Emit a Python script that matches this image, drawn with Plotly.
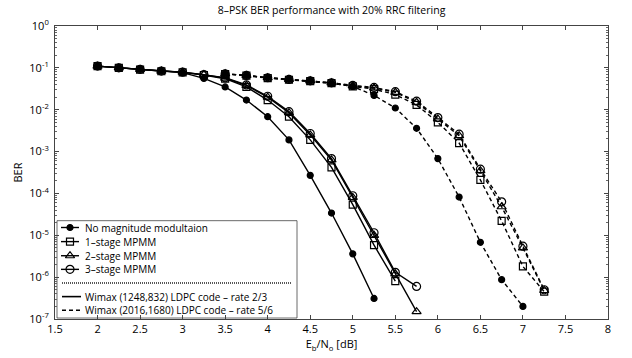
import plotly.graph_objects as go

# ---------------- data ----------------
snr_23 = [2.0, 2.25, 2.5, 2.75, 3.0, 3.25, 3.5, 3.75, 4.0, 4.25, 4.5, 4.75, 5.0, 5.25, 5.5, 5.75]
snr_56 = [3.5, 3.75, 4.0, 4.25, 4.5, 4.75, 5.0, 5.25, 5.5, 5.75, 6.0, 6.25, 6.5, 6.75, 7.0, 7.25]

# rate 2/3 code (solid)
ber_nomag_23 = [0.11, 0.10, 0.092, 0.084, 0.077, 0.056, 0.035, 0.017, 0.0068, 0.0019, 2.7e-4, 3.4e-5, 3.6e-6, 3.1e-7]
ber_s1_23 = [0.11, 0.10, 0.091, 0.083, 0.078, 0.067, 0.055, 0.035, 0.017, 0.0068, 0.0019, 4.2e-4, 5.4e-5, 5.8e-6, 8.0e-7]
ber_s2_23 = [0.11, 0.10, 0.092, 0.084, 0.079, 0.069, 0.057, 0.038, 0.020, 0.0085, 0.0025, 6.3e-4, 8.0e-5, 1.0e-5, 1.2e-6, 1.5e-7]
ber_s3_23 = [0.11, 0.10, 0.092, 0.084, 0.079, 0.069, 0.058, 0.039, 0.021, 0.0090, 0.0027, 6.8e-4, 8.8e-5, 1.15e-5, 1.3e-6, 6.0e-7]

# rate 5/6 code (dashed)
ber_nomag_56 = [0.072, 0.066, 0.058, 0.053, 0.049, 0.043, 0.036, 0.022, 0.011, 0.0036, 6.8e-4, 8.2e-5, 6.8e-6, 8.7e-7, 2.0e-7]
ber_s1_56 = [0.071, 0.065, 0.057, 0.052, 0.048, 0.043, 0.036, 0.031, 0.023, 0.013, 0.0050, 0.0016, 2.1e-4, 2.2e-5, 1.8e-6, 4.5e-7]
ber_s2_56 = [0.072, 0.066, 0.058, 0.053, 0.049, 0.044, 0.037, 0.033, 0.026, 0.015, 0.0060, 0.0024, 3.5e-4, 4.8e-5, 5.0e-6, 4.8e-7]
ber_s3_56 = [0.072, 0.066, 0.058, 0.053, 0.049, 0.044, 0.038, 0.034, 0.027, 0.016, 0.0065, 0.0026, 3.8e-4, 6.3e-5, 5.5e-6, 5.0e-7]

scheme_names = ["No magnitude modultaion", "1\u2013stage MPMM", "2\u2013stage MPMM", "3\u2013stage MPMM"]
code_names = ["Wimax (1248,832) LDPC code \u2013 rate 2/3", "Wimax (2016,1680) LDPC code \u2013 rate 5/6"]

x_ticks = [1.5, 2, 2.5, 3, 3.5, 4, 4.5, 5, 5.5, 6, 6.5, 7, 7.5, 8]
x_ticktext = ["1.5", "2", "2.5", "3", "3.5", "4", "4.5", "5", "5.5", "6", "6.5", "7", "7.5", "8"]
y_exps = [0, -1, -2, -3, -4, -5, -6, -7]

title_text = "8\u2013PSK BER performance with 20% RRC filtering"

# ---------------- style ----------------
FONT = "Open Sans"
symbols = ["circle", "square-open", "triangle-up-open", "circle-open"]
sizes = [6, 7, 8, 8]
DASH = "4px,3px"
LW = 1.4

fig = go.Figure()
curves_23 = [ber_nomag_23, ber_s1_23, ber_s2_23, ber_s3_23]
curves_56 = [ber_nomag_56, ber_s1_56, ber_s2_56, ber_s3_56]
for name, sym, sz, y23, y56 in zip(scheme_names, symbols, sizes, curves_23, curves_56):
    mk = dict(symbol=sym, size=sz, color="black", line=dict(color="black", width=1.2))
    fig.add_trace(go.Scatter(x=snr_23[:len(y23)], y=y23, mode="lines+markers", name=name,
                             line=dict(color="black", width=LW), marker=mk, showlegend=False))
    fig.add_trace(go.Scatter(x=snr_56[:len(y56)], y=y56, mode="lines+markers", name=name,
                             line=dict(color="black", width=LW, dash=DASH), marker=mk, showlegend=False))

# ---------------- manual legend (pixel-like overlay axes) ----------------
PX_L, PX_R, PX_T, PX_B = 55, 608, 26, 327
leg_rows = [233, 247.5, 262, 276]
sep_row = 290
code_rows = [304, 318]
for name, sym, sz, ry in zip(scheme_names, symbols, sizes, leg_rows):
    fig.add_trace(go.Scatter(x=[61, 79], y=[ry, ry], mode="lines", line=dict(color="black", width=LW),
                             xaxis="x2", yaxis="y2", showlegend=False, hoverinfo="skip"))
    fig.add_trace(go.Scatter(x=[70], y=[ry], mode="markers", xaxis="x2", yaxis="y2",
                             marker=dict(symbol=sym, size=sz, color="black", line=dict(color="black", width=1.2)),
                             showlegend=False, hoverinfo="skip"))
    fig.add_annotation(x=83, y=ry, xref="x2", yref="y2", text=name, showarrow=False,
                       xanchor="left", yanchor="middle", font=dict(family=FONT, size=10, color="black"))
fig.add_trace(go.Scatter(x=[62, 292], y=[sep_row, sep_row], mode="lines", xaxis="x2", yaxis="y2",
                         line=dict(color="#222", width=1.6, dash="1px,1px"), showlegend=False, hoverinfo="skip"))
for name, dsh, ry in zip(code_names, ["solid", DASH], code_rows):
    fig.add_trace(go.Scatter(x=[62, 81], y=[ry, ry], mode="lines", xaxis="x2", yaxis="y2",
                             line=dict(color="black", width=1.6 if dsh == "solid" else LW, dash=dsh),
                             showlegend=False, hoverinfo="skip"))
    fig.add_annotation(x=83, y=ry, xref="x2", yref="y2", text=name, showarrow=False,
                       xanchor="left", yanchor="middle", font=dict(family=FONT, size=10, color="black"))
fig.add_shape(type="rect", xref="x2", yref="y2", x0=57, x1=297, y0=226, y1=326,
              line=dict(color="#444", width=0.8), fillcolor="white", layer="below")

y_tickvals = [10.0 ** e for e in y_exps]
y_ticktext = ["10<sup>%d</sup>" % e for e in y_exps]
y_minor = [m * 10.0 ** e for e in range(-7, 0) for m in range(2, 10)]

axis_common = dict(showgrid=False, zeroline=False, showline=True, linecolor="#444", linewidth=1,
                   mirror="allticks", ticks="inside", ticklen=4, tickcolor="#444",
                   tickfont=dict(family=FONT, size=11, color="black"))

fig.update_layout(
    width=632, height=358,
    margin=dict(l=PX_L, r=632 - PX_R, t=PX_T, b=358 - PX_B),
    paper_bgcolor="white", plot_bgcolor="white",
    title=dict(text=title_text, x=0.5, xref="paper", y=1 - 10 / 358, yref="container",
               xanchor="center", yanchor="middle", font=dict(family=FONT, size=10.5, color="black")),
    xaxis=dict(range=[1.5, 8], tickvals=x_ticks, ticktext=x_ticktext,
               title=dict(text="E<sub>b</sub>/N<sub>o</sub> [dB]", standoff=2,
                          font=dict(family=FONT, size=11, color="black")),
               **axis_common),
    yaxis=dict(type="log", range=[-7, 0], tickvals=y_tickvals, ticktext=y_ticktext,
               ticklabelstandoff=3,
               minor=dict(tickvals=y_minor, ticks="inside", ticklen=2, tickcolor="#666", showgrid=False),
               title=dict(text="BER", standoff=4, font=dict(family=FONT, size=11, color="black")),
               **axis_common),
    xaxis2=dict(overlaying="x", range=[PX_L, PX_R], visible=False, fixedrange=True),
    yaxis2=dict(overlaying="y", range=[PX_B, PX_T], visible=False, fixedrange=True),
    showlegend=False,
)

fig.write_html("out.html")
